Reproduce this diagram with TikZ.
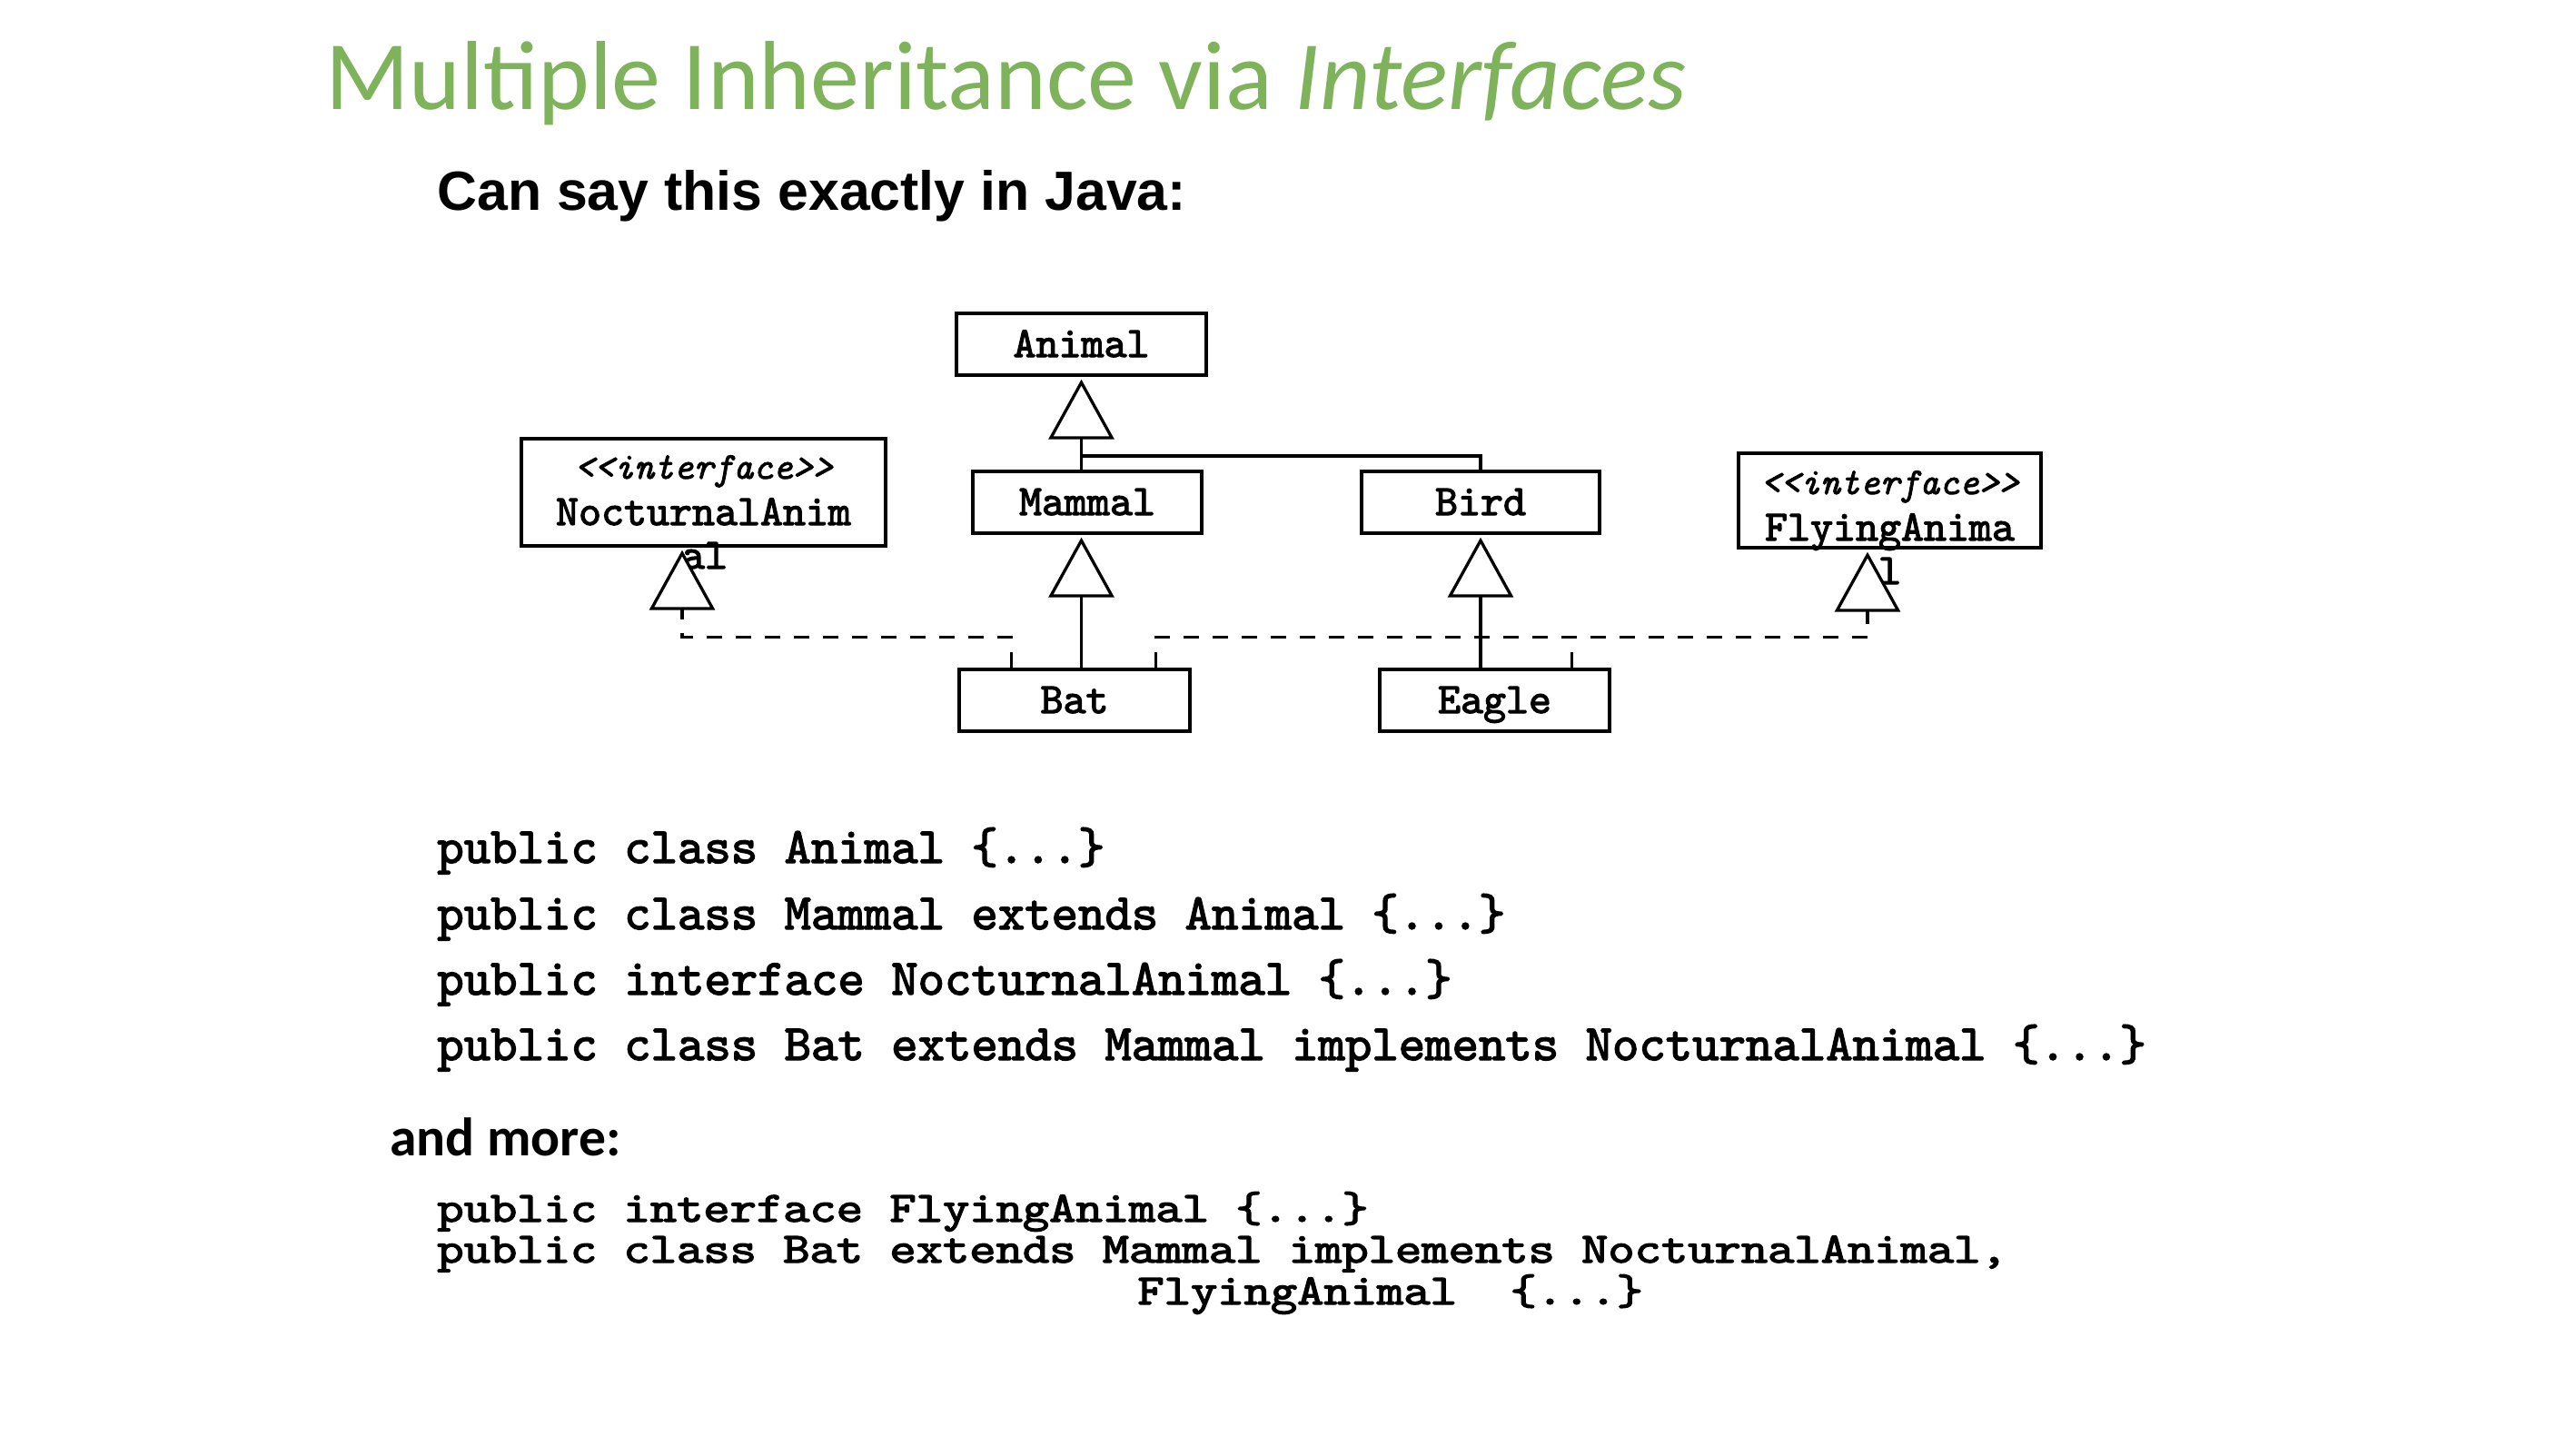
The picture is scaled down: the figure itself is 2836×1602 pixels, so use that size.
\documentclass[tikz,border=0pt]{standalone}
\usepackage{fontspec}
\usetikzlibrary{arrows.meta}
\newfontfamily\titlefont{Carlito}
\newfontfamily\headfont{Liberation Sans}
\newfontfamily\codefont{lmmono10-regular.otf}[FakeBold=2.5]
\newfontfamily\codeitfont{lmmono10-italic.otf}[FakeBold=2]
\definecolor{titlegreen}{RGB}{126,179,92}

\tikzset{
  px/.style={x=0.5pt,y=-0.5pt},
  umlbox/.style={draw, line width=1.65pt, inner sep=0pt, fill=white},
  boxtext/.style={font=\codefont\fontsize{23.8}{28}\selectfont, inner sep=0pt, anchor=base},
  stereo/.style={font=\codeitfont\fontsize{20.8}{24}\selectfont, inner sep=0pt, anchor=base},
  gen/.style={line width=1.65pt, shorten >=1.5pt,
    -{Triangle[fill=white, length=33pt, width=36pt, line width=1.65pt]}},
  plainlink/.style={line width=1.65pt},
  real/.style={gen, dash pattern=on 8.5pt off 7.5pt},
  realplain/.style={line width=1.65pt, dash pattern=on 8.5pt off 7.5pt},
  codeA/.style={font=\codefont\fontsize{28}{33}\selectfont, inner sep=0pt, anchor=base west},
  codeB/.style={font=\codefont\fontsize{27.9}{33}\selectfont, inner sep=0pt, anchor=base west, yscale=0.85},
}

\begin{document}
\begin{tikzpicture}[px]
  \fill[white] (0,0) rectangle (2836,1602);
  \useasboundingbox (0,0) rectangle (2836,1602);

  % headings
  \node[font=\titlefont\fontsize{54}{60}\selectfont, text=titlegreen, inner sep=0pt, anchor=base west]
    (title) at (358,120) {Multiple Inheritance via \textit{Interfaces}};
  \node[font=\headfont\bfseries\fontsize{30.4}{36}\selectfont, inner sep=0pt, anchor=base west]
    (say) at (481,231) {Can say this exactly in Java:};

  % class boxes
  \node[umlbox, minimum width=137.5pt, minimum height=34pt] (Animal) at (1190.5,379) {};
  \node[umlbox, minimum width=126pt, minimum height=34pt] (Mammal) at (1197,553) {};
  \node[umlbox, minimum width=131pt, minimum height=34pt] (Bird) at (1630,553) {};
  \node[umlbox, minimum width=127pt, minimum height=34pt] (Bat) at (1183,771) {};
  \node[umlbox, minimum width=126.5pt, minimum height=34pt] (Eagle) at (1645.5,771) {};
  \node[umlbox, minimum width=200.5pt, minimum height=59pt] (Noct) at (774.5,542) {};
  \node[umlbox, minimum width=166.5pt, minimum height=52pt] (Fly) at (2080.5,551) {};

  \node[boxtext] (tAnimal) at (1190.5,393) {Animal};
  \node[boxtext] (tMammal) at (1197,567) {Mammal};
  \node[boxtext] (tBird) at (1630,567) {Bird};
  \node[boxtext] (tBat) at (1183,785) {Bat};
  \node[boxtext] (tEagle) at (1645.5,785) {Eagle};

  \node[stereo] (sNoct) at (774.5,527) {<<interface>>};
  \node[boxtext] (nNoct) at (774.5,578) {NocturnalAnim};
  \node[boxtext] (nNoct2) at (776,626) {al};
  \node[stereo] (sFly) at (2080.5,544) {<<interface>>};
  \node[boxtext] (nFly) at (2080.5,595) {FlyingAnima};
  \node[boxtext] (nFly2) at (2080.5,643) {l};

  % generalisation
  \draw[gen] (Mammal.north -| Animal.south) -- (Animal.south);
  \coordinate (jAnimal) at (1190.5,502);
  \draw[plainlink] (Bird.north) |- (jAnimal);
  \draw[gen] (Bat.north -| Animal.south) -- (Mammal.south -| Animal.south);
  \draw[gen] (Eagle.north -| Bird.south) -- (Bird.south);

  % realisation
  \draw[real] ([xshift=29.5pt]Bat.north west) -- ++(0,-34) -| ([xshift=-11.75pt]Noct.south);
  \draw[real] ([xshift=-19.5pt]Bat.north east) -- ++(0,-34) -| ([xshift=-12.25pt]Fly.south);
  \draw[realplain] ([xshift=-21.5pt]Eagle.north east) -- ++(0,-34);

  % code
  \node[codeA] (c1) at (481,950) {public class Animal \{...\}};
  \node[codeA] (c2) at (481,1023) {public class Mammal extends Animal \{...\}};
  \node[codeA] (c3) at (481,1095) {public interface NocturnalAnimal \{...\}};
  \node[codeA] (c4) at (481,1167) {public class Bat extends Mammal implements NocturnalAnimal \{...\}};

  \node[font=\titlefont\bfseries\fontsize{29.8}{36}\selectfont, inner sep=0pt, anchor=base west]
    (more) at (429,1272) {and more:};

  \node[codeB] (d1) at (481,1345) {public interface FlyingAnimal \{...\}};
  \node[codeB] (d2) at (481,1390) {public class Bat extends Mammal implements NocturnalAnimal,};
  \node[codeB] (d3) at (1252,1436) {FlyingAnimal\ \ \{...\}};
\end{tikzpicture}
\end{document}
